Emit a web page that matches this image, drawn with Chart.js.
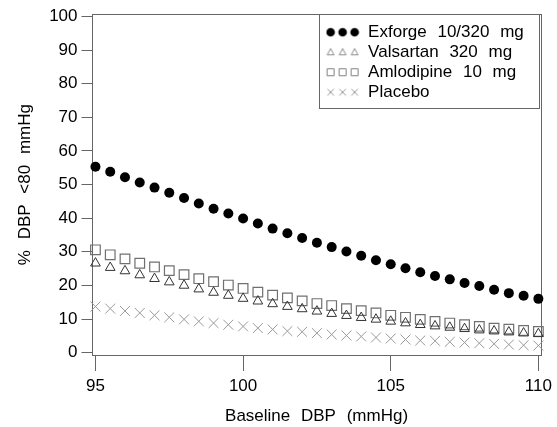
<!DOCTYPE html>
<html><head><meta charset="utf-8">
<script src="https://cdn.jsdelivr.net/npm/chart.js@4"></script>
<style>html,body{margin:0;padding:0;background:#fff}canvas{display:block}</style>
</head><body>
<canvas id="c" width="557" height="427" style="width:557px;height:427px"></canvas>
<script>
// ---- data ----
const baselineDBP = [95,95.5,96,96.5,97,97.5,98,98.5,99,99.5,100,100.5,101,101.5,102,102.5,103,103.5,104,104.5,105,105.5,106,106.5,107,107.5,108,108.5,109,109.5,110];
const exforge    = [55.3,53.8,52.2,50.6,49.1,47.6,46.0,44.4,42.8,41.4,39.9,38.4,36.9,35.5,34.1,32.7,31.4,30.1,28.8,27.5,26.3,25.1,23.9,22.8,21.8,20.7,19.8,18.7,17.7,16.9,16.0];
const valsartan  = [26.6,25.3,24.3,23.1,22.0,21.0,20.0,18.9,17.9,17.0,16.1,15.3,14.5,13.7,13.0,12.3,11.6,11.0,10.4,9.9,9.3,8.8,8.3,7.9,7.5,7.1,6.7,6.4,6.1,5.8,5.6];
const amlodipine = [30.6,29.1,27.9,26.6,25.5,24.4,23.2,22.0,21.1,20.1,19.1,18.0,17.1,16.3,15.4,14.6,14.0,13.1,12.5,11.8,11.1,10.5,9.9,9.3,8.8,8.3,7.8,7.3,7.0,6.6,6.3];
const placebo    = [13.7,13.1,12.4,11.8,11.1,10.5,9.9,9.3,8.8,8.3,7.8,7.3,6.9,6.4,6.2,5.8,5.4,5.1,4.8,4.5,4.2,3.9,3.6,3.5,3.2,3.0,2.8,2.6,2.4,2.2,2.1];
const seriesNames = ['Exforge 10/320 mg','Valsartan 320 mg','Amlodipine 10 mg','Placebo'];
const xTicks = [95,100,105,110];
const yTicks = [0,10,20,30,40,50,60,70,80,90,100];
const xTitle = 'Baseline DBP (mmHg)';
const yTitle = '% DBP <80 mmHg';

// ---- styles ----
const FAMILY = "'Liberation Sans', Arial, Helvetica, sans-serif";
const FS = 17;
const AXIS = '#666666';

function pts(vals){ return baselineDBP.map((x,i)=>({x:x, y:vals[i]})); }

function legendIcon(kind){
  const c = document.createElement('canvas');
  c.width = 34; c.height = 12;
  const g = c.getContext('2d');
  [5,17,29].forEach(cx=>{
    const cy = 6;
    g.beginPath();
    if (kind==='circle'){ g.fillStyle='#000'; g.arc(cx,cy,4.3,0,Math.PI*2); g.fill(); }
    else if (kind==='triangle'){ g.strokeStyle='#8a8a8a'; g.lineWidth=1; g.moveTo(cx,cy-3.6); g.lineTo(cx+3.4,cy+2.6); g.lineTo(cx-3.4,cy+2.6); g.closePath(); g.stroke(); }
    else if (kind==='rect'){ g.strokeStyle='#808080'; g.lineWidth=1; g.rect(cx-3.5,cy-3.5,7,7); g.stroke(); }
    else { g.strokeStyle='#999'; g.lineWidth=1; g.moveTo(cx-3.3,cy-3.3); g.lineTo(cx+3.3,cy+3.3); g.moveTo(cx+3.3,cy-3.3); g.lineTo(cx-3.3,cy+3.3); g.stroke(); }
  });
  return c;
}
const legendIcons = [legendIcon('circle'), legendIcon('triangle'), legendIcon('rect'), legendIcon('cross')];

const spacingPlugin = {
  id:'spacing',
  beforeUpdate(chart){ chart.ctx.wordSpacing='6px'; },
  beforeLayout(chart){ chart.ctx.wordSpacing='6px'; },
  beforeDraw(chart){ chart.ctx.wordSpacing='6px'; },
  afterLayout(chart){
    const lg = chart.legend;
    if (lg){ lg.left = chart.chartArea.right - 219; lg.top = chart.chartArea.top + 6.5; }
  },
  beforeDatasetsDraw(chart){
    const {ctx, chartArea:a} = chart;
    ctx.save();
    ctx.strokeStyle = AXIS; ctx.lineWidth = 1;
    const l = Math.round(a.left)+0.5, t = Math.round(a.top)+0.5, r = Math.round(a.right)-0.5, b = Math.round(a.bottom)+0.5;
    ctx.strokeRect(l, t, r-l, b-t);
    // legend frame
    const lx = Math.round(a.right-223)+0.5, ly = t, lw = 220, lh = 94;
    ctx.strokeRect(lx, ly, lw, lh);
    ctx.restore();
  }
};

const ctx = document.getElementById('c').getContext('2d');
new Chart(ctx, {
  type:'scatter',
  data:{ datasets:[
    {label:seriesNames[0], data:pts(exforge), pointStyle:'circle', pointRadius:5, backgroundColor:'#000', borderColor:'#000', borderWidth:0, clip:false},
    {label:seriesNames[1], data:pts(valsartan), pointStyle:'triangle', pointRadius:5.6, backgroundColor:'rgba(0,0,0,0)', borderColor:'#333', borderWidth:1, clip:false},
    {label:seriesNames[2], data:pts(amlodipine), pointStyle:'rect', pointRadius:6.8, backgroundColor:'rgba(0,0,0,0)', borderColor:'#707070', borderWidth:1.2, clip:false},
    {label:seriesNames[3], data:pts(placebo), pointStyle:'crossRot', pointRadius:7, backgroundColor:'rgba(0,0,0,0)', borderColor:'#999', borderWidth:1, clip:false}
  ]},
  options:{
    responsive:false, animation:false, devicePixelRatio:1,
    layout:{ padding:{top:13, right:11, left:0, bottom:0} },
    plugins:{
      tooltip:{enabled:false},
      legend:{
        position:'chartArea', align:'start',
        labels:{
          usePointStyle:true, pointStyleWidth:34, padding:3, color:'#000',
          font:{family:FAMILY, size:FS},
          generateLabels:(chart)=> chart.data.datasets.map((d,i)=>({
            text:d.label, pointStyle:legendIcons[i], fillStyle:'#000', strokeStyle:'#000', lineWidth:0, hidden:false, datasetIndex:i, fontColor:'#000'
          }))
        }
      }
    },
    scales:{
      x:{
        type:'linear', min:94.866, max:110.11,
        afterBuildTicks:(s)=>{ s.ticks = xTicks.map(v=>({value:v})); },
        afterFit:(s)=>{ s.height = 72; },
        grid:{ display:true, drawOnChartArea:false, drawTicks:true, tickLength:16, color:AXIS, lineWidth:1 },
        border:{ display:false },
        ticks:{ color:'#000', font:{family:FAMILY, size:FS}, padding:5, maxRotation:0, autoSkip:false },
        title:{ display:true, text:xTitle, color:'#000', font:{family:FAMILY, size:FS}, padding:{top:8.5, bottom:0} }
      },
      y:{
        type:'linear', min:-0.71, max:100.71,
        afterBuildTicks:(s)=>{ s.ticks = yTicks.map(v=>({value:v})); },
        afterFit:(s)=>{ s.width = 91.5; },
        grid:{ display:true, drawOnChartArea:false, drawTicks:true, tickLength:10, color:AXIS, lineWidth:1 },
        border:{ display:false },
        ticks:{ color:'#000', font:{family:FAMILY, size:FS}, padding:4, autoSkip:false },
        title:{ display:true, text:yTitle, color:'#000', font:{family:FAMILY, size:FS}, padding:{top:14.8, bottom:0} }
      }
    }
  },
  plugins:[spacingPlugin]
});
</script>
</body></html>
